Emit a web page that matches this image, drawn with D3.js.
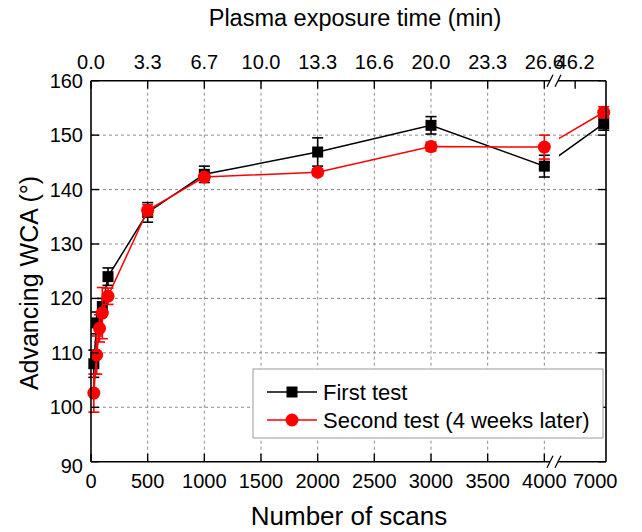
<!DOCTYPE html>
<html>
<head>
<meta charset="utf-8">
<script src="https://cdn.jsdelivr.net/npm/d3@7"></script>
<style>
  html, body { margin: 0; padding: 0; background: #fff; }
  svg { display: block; font-family: "Liberation Sans", Arial, sans-serif; }
</style>
</head>
<body>
<svg id="chart" width="642" height="532"></svg>
<script>
// ---------- data ----------
const scanTicks = [0, 500, 1000, 1500, 2000, 2500, 3000, 3500, 4000, 7000];
const timeLabels = ["0.0", "3.3", "6.7", "10.0", "13.3", "16.6", "20.0", "23.3", "26.6", "46.2"];
const yTicks = [90, 100, 110, 120, 130, 140, 150, 160];

const firstX   = [25, 50, 100, 150, 500, 1000, 2000, 3000, 4000, 7250];
const firstY   = [108.0, 115.5, 118.5, 124.0, 135.8, 142.8, 146.9, 151.8, 144.3, 152.1];
const firstErr = [2.5, 2.0, 1.5, 1.6, 1.8, 1.5, 2.6, 1.6, 2.0, 1.2];

const secondX   = [25, 50, 75, 100, 150, 500, 1000, 2000, 3000, 4000, 7250];
const secondY   = [102.6, 109.6, 114.5, 117.3, 120.4, 136.2, 142.3, 143.2, 147.9, 147.8, 154.2];
const secondErr = [3.5, 3.5, 2.5, 4.7, 1.5, 1.0, 0.6, 0.6, 0.8, 2.2, 1.0];

const seriesNames = ["First test", "Second test (4 weeks later)"];

// ---------- layout ----------
const L = 91, R = 606, T = 80.7, B = 461.7;
const breakA = 550, breakB = 558;

const svg = d3.select("#chart");

const x1 = d3.scaleLinear().domain([0, 4050]).range([L, breakA]);
const x2 = d3.scaleLinear().domain([6850, 7270]).range([breakB, R]);
const x = v => (v <= 5000 ? x1(v) : x2(v));
const y = d3.scaleLinear().domain([90, 160]).range([B, T]);

// clip to hide line segment in the break gap
const defs = svg.append("defs");
const cp = defs.append("clipPath").attr("id", "gapclip");
cp.append("rect").attr("x", 0).attr("y", 0).attr("width", breakA).attr("height", 532);
cp.append("rect").attr("x", breakB + 1).attr("y", 0).attr("width", 642 - breakB).attr("height", 532);

// ---------- grid ----------
const grid = svg.append("g").attr("stroke", "#8c8c8c").attr("stroke-width", 1).attr("stroke-dasharray", "3,3");
scanTicks.filter(v => v > 0 && v <= 4000).forEach(v => {
  grid.append("line").attr("x1", x(v)).attr("x2", x(v)).attr("y1", T).attr("y2", B);
});
yTicks.filter(v => v > 90 && v < 160).forEach(v => {
  grid.append("line").attr("x1", L).attr("x2", R).attr("y1", y(v)).attr("y2", y(v));
});

// ---------- series ----------
function drawSeries(xs, ys, es, color, shape) {
  const g = svg.append("g");
  const pts = xs.map((v, i) => ({ x: v, y: ys[i], e: es[i] }));
  const line = d3.line().x(d => x(d.x)).y(d => y(d.y));
  g.append("path").datum(pts).attr("d", line)
    .attr("fill", "none").attr("stroke", color).attr("stroke-width", 1.5)
    .attr("clip-path", "url(#gapclip)");
  const eb = g.append("g").attr("stroke", color).attr("stroke-width", 1.6);
  pts.forEach(d => {
    const cx = x(d.x);
    eb.append("line").attr("x1", cx).attr("x2", cx).attr("y1", y(d.y - d.e)).attr("y2", y(d.y + d.e));
    eb.append("line").attr("x1", cx - 5.5).attr("x2", cx + 5.5).attr("y1", y(d.y - d.e)).attr("y2", y(d.y - d.e));
    eb.append("line").attr("x1", cx - 5.5).attr("x2", cx + 5.5).attr("y1", y(d.y + d.e)).attr("y2", y(d.y + d.e));
  });
  pts.forEach(d => {
    if (shape === "square") {
      g.append("rect").attr("x", x(d.x) - 5.5).attr("y", y(d.y) - 5.5)
        .attr("width", 11).attr("height", 11).attr("fill", color);
    } else {
      g.append("circle").attr("cx", x(d.x)).attr("cy", y(d.y)).attr("r", 6.5).attr("fill", color);
    }
  });
}
drawSeries(firstX, firstY, firstErr, "#000000", "square");
drawSeries(secondX, secondY, secondErr, "#ff0000", "circle");

// ---------- axes ----------
const frame = svg.append("g").attr("stroke", "#000").attr("stroke-width", 1.6).attr("fill", "none");
frame.append("line").attr("x1", L).attr("x2", L).attr("y1", T).attr("y2", B);
frame.append("line").attr("x1", R).attr("x2", R).attr("y1", T).attr("y2", B);
[T, B].forEach(yy => {
  frame.append("line").attr("x1", L).attr("x2", breakA).attr("y1", yy).attr("y2", yy);
  frame.append("line").attr("x1", breakB).attr("x2", R).attr("y1", yy).attr("y2", yy);
  [breakA, breakB].forEach(bx => {
    frame.append("line").attr("x1", bx - 3).attr("x2", bx + 3).attr("y1", yy + 6).attr("y2", yy - 6)
      .attr("stroke-width", 1.2);
  });
});

const ax = svg.append("g").attr("font-size", 20).attr("fill", "#000");
// bottom axis (the 7000 label sits right of its tick in the reference)
scanTicks.forEach(v => {
  const px = x(v);
  if (v <= 4000) {
    ax.append("line").attr("x1", px).attr("x2", px).attr("y1", B).attr("y2", B - 8).attr("stroke", "#000").attr("stroke-width", 1.4);
  }
  const lx = v > 5000 ? px + 20 : px;
  ax.append("text").attr("x", lx).attr("y", B + 26).attr("text-anchor", "middle").text(d3.format("d")(v));
});
// top axis
scanTicks.forEach((v, i) => {
  const px = x(v);
  ax.append("line").attr("x1", px).attr("x2", px).attr("y1", T).attr("y2", T + 8).attr("stroke", "#000").attr("stroke-width", 1.4);
  ax.append("text").attr("x", px).attr("y", T - 12).attr("text-anchor", "middle").text(timeLabels[i]);
});
// left / right axes
yTicks.forEach(v => {
  const py = y(v);
  ax.append("line").attr("x1", L).attr("x2", L + 8).attr("y1", py).attr("y2", py).attr("stroke", "#000").attr("stroke-width", 1.4);
  ax.append("line").attr("x1", R).attr("x2", R - 8).attr("y1", py).attr("y2", py).attr("stroke", "#000").attr("stroke-width", 1.4);
  ax.append("text").attr("x", L - 8).attr("y", py + 7 + (v === 90 ? 4 : 0)).attr("text-anchor", "end").text(v);
});

// titles
svg.append("text").attr("x", 355).attr("y", 26).attr("text-anchor", "middle").attr("font-size", 23.5)
  .text("Plasma exposure time (min)");
svg.append("text").attr("x", 349).attr("y", 525).attr("text-anchor", "middle").attr("font-size", 26)
  .text("Number of scans");
svg.append("text").attr("transform", "translate(38,283) rotate(-90)").attr("text-anchor", "middle").attr("font-size", 25)
  .text("Advancing WCA (°)");

// ---------- legend ----------
const lg = svg.append("g");
lg.append("rect").attr("x", 253).attr("y", 369).attr("width", 350).attr("height", 69)
  .attr("fill", "#fff").attr("stroke", "#9a9a9a").attr("stroke-width", 1);
const lgItems = [
  { name: seriesNames[0], color: "#000000", shape: "square", cy: 392 },
  { name: seriesNames[1], color: "#ff0000", shape: "circle", cy: 420 }
];
lgItems.forEach(it => {
  lg.append("line").attr("x1", 267).attr("x2", 317).attr("y1", it.cy).attr("y2", it.cy)
    .attr("stroke", it.color).attr("stroke-width", 1.5);
  if (it.shape === "square") {
    lg.append("rect").attr("x", 292 - 5.5).attr("y", it.cy - 5.5).attr("width", 11).attr("height", 11).attr("fill", it.color);
  } else {
    lg.append("circle").attr("cx", 292).attr("cy", it.cy).attr("r", 6.5).attr("fill", it.color);
  }
  lg.append("text").attr("x", 323).attr("y", it.cy + 8).attr("font-size", 22).text(it.name);
});
</script>
</body>
</html>
